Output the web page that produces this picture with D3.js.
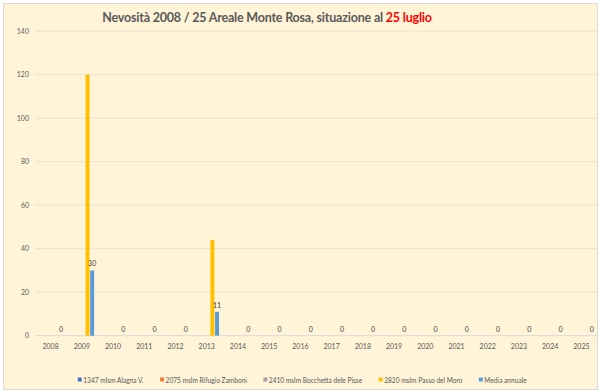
<!DOCTYPE html>
<html>
<head>
<meta charset="utf-8">
<script src="https://cdn.jsdelivr.net/npm/d3@7"></script>
<style>
  body { margin: 0; background: #ffffff; }
  svg { display: block; font-family: Lato, "Open Sans", sans-serif; }
</style>
</head>
<body>
<svg id="chart" width="600" height="392"></svg>
<script>
// chart data
var years = ["2008", "2009", "2010", "2011", "2012", "2013", "2014", "2015", "2016",
             "2017", "2018", "2019", "2020", "2021", "2022", "2023", "2024", "2025"];
var seriesNames = ["1347 mlsm Alagna V.", "2075 mslm Rifugio Zamboni",
                   "2410 mslm Bocchetta dele Pisse", "2820 mslm Passo del Moro", "Media annuale"];
var seriesColors = ["#4472C4", "#ED7D31", "#A5A5A5", "#FFC000", "#5B9BD5"];
var alagna    = [0, 0, 0, 0, 0, 0, 0, 0, 0, 0, 0, 0, 0, 0, 0, 0, 0, 0];
var zamboni   = [0, 0, 0, 0, 0, 0, 0, 0, 0, 0, 0, 0, 0, 0, 0, 0, 0, 0];
var bocchetta = [0, 0, 0, 0, 0, 0, 0, 0, 0, 0, 0, 0, 0, 0, 0, 0, 0, 0];
var passoMoro = [0, 120, 0, 0, 0, 44, 0, 0, 0, 0, 0, 0, 0, 0, 0, 0, 0, 0];
var media     = [0, 30, 0, 0, 0, 11, 0, 0, 0, 0, 0, 0, 0, 0, 0, 0, 0, 0];
var yTicks = [0, 20, 40, 60, 80, 100, 120, 140];

var allSeries = [alagna, zamboni, bocchetta, passoMoro, media];

var svg = d3.select("#chart");

// background panel
svg.append("rect")
   .attr("x", 3.5).attr("y", 3.5)
   .attr("width", 594).attr("height", 386)
   .attr("fill", "#FFF4D8")
   .attr("stroke", "#D9D9D9");

// title
var title = svg.append("text")
   .attr("x", 267).attr("y", 21.5)
   .attr("text-anchor", "middle")
   .attr("font-size", 12.5)
   .attr("letter-spacing", -0.2)
   .attr("font-weight", "bold")
   .attr("fill", "#595959");
title.append("tspan").text("Nevosità 2008 / 25 Areale Monte Rosa, situazione al ");
title.append("tspan").attr("fill", "#FF0000").text("25 luglio");

var x0 = d3.scaleBand()
           .domain(years)
           .range([35, 597]);

var x1 = d3.scaleBand()
           .domain(d3.range(seriesNames.length))
           .range([5.4, 27.9])
           .paddingInner(0.15);

var y = d3.scaleLinear()
          .domain([0, 140])
          .range([335.7, 31.2]);

// gridlines
svg.append("g")
   .selectAll("line")
   .data(yTicks)
   .join("line")
   .attr("x1", 35).attr("x2", 597)
   .attr("y1", function(d) { return y(d); })
   .attr("y2", function(d) { return y(d); })
   .attr("stroke", function(d) { return d === 0 ? "#D9D9D9" : "#E6E2D6"; })
   .attr("stroke-width", 1);

// y axis labels
var yAxis = d3.axisLeft(y).tickValues(yTicks).tickSize(0).tickPadding(6);
var gy = svg.append("g").attr("transform", "translate(35,0)").call(yAxis);
gy.select(".domain").remove();
gy.selectAll("text").attr("font-size", 7).attr("fill", "#595959")
  .attr("font-family", "Lato, sans-serif");

// x axis labels
var xAxis = d3.axisBottom(x0).tickSize(0).tickPadding(8);
var gx = svg.append("g").attr("transform", "translate(0," + y(0) + ")").call(xAxis);
gx.select(".domain").remove();
gx.selectAll("text").attr("font-size", 7).attr("fill", "#595959")
  .attr("font-family", "Lato, sans-serif");

// bars
var groups = svg.append("g")
   .selectAll("g")
   .data(years)
   .join("g")
   .attr("transform", function(d) { return "translate(" + x0(d) + ",0)"; });

groups.selectAll("rect")
   .data(function(d, i) {
     return allSeries.map(function(s, k) { return { k: k, v: s[i] }; });
   })
   .join("rect")
   .attr("x", function(d) { return x1(d.k); })
   .attr("width", x1.bandwidth())
   .attr("y", function(d) { return y(d.v); })
   .attr("height", function(d) { return y(0) - y(d.v); })
   .attr("fill", function(d) { return seriesColors[d.k]; });

// data labels for the annual mean
groups.append("text")
   .attr("x", function(d, i) { return x1(4) + x1.bandwidth() / 2; })
   .attr("y", function(d, i) { return y(media[i]) - 4; })
   .attr("text-anchor", "middle")
   .attr("font-size", 7)
   .attr("fill", "#404040")
   .text(function(d, i) { return media[i]; });

// legend
var legend = svg.append("g").attr("transform", "translate(0,380)");
var items = legend.selectAll("g")
   .data(seriesNames)
   .join("g");
items.append("rect")
   .attr("y", -2.5).attr("width", 4).attr("height", 4)
   .attr("fill", function(d, i) { return seriesColors[i]; });
items.append("text")
   .attr("x", 5.5).attr("y", 2.5)
   .attr("font-size", 6.6)
   .attr("fill", "#595959")
   .text(function(d) { return d; });

var lx = 0;
var widths = [];
items.each(function() { widths.push(this.getBBox().width); });
var total = d3.sum(widths) + 16 * (widths.length - 1);
lx = 302.5 - total / 2;
items.attr("transform", function(d, i) {
  var t = "translate(" + lx + ",0)";
  lx += widths[i] + 16;
  return t;
});
</script>
</body>
</html>
